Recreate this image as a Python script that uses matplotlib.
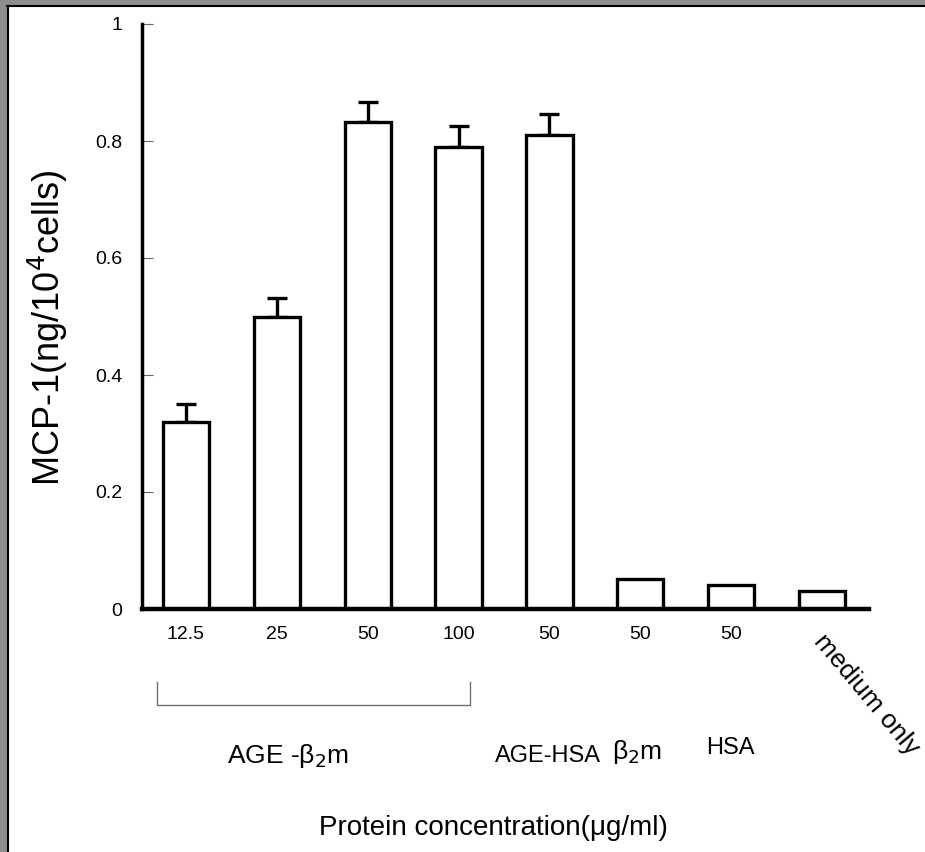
import matplotlib.pyplot as plt
import matplotlib.patches as mpatches
from matplotlib.lines import Line2D
import numpy as np

plt.rcParams['font.family'] = ['Liberation Sans', 'DejaVu Sans']

# MCP-1 secretion per condition
dose_labels = ["12.5", "25", "50", "100", "50", "50", "50", ""]
mcp1 = [0.32, 0.50, 0.832, 0.79, 0.81, 0.051, 0.041, 0.031]
sem = [0.03, 0.032, 0.035, 0.036, 0.036, 0, 0, 0]
groups = ["AGE -β$_2$m", "AGE-HSA", "β$_2$m", "HSA"]

x = np.arange(len(mcp1))

fig = plt.figure(figsize=(9.25, 8.52), dpi=100)
ax = fig.add_axes([142 / 925, (852 - 609) / 852, (869 - 142) / 925, 585 / 852])

ax.bar(x, mcp1, width=0.51, color="white", edgecolor="black", linewidth=2.4, zorder=2)
has_err = np.array(sem) > 0
ax.errorbar(x[has_err], np.array(mcp1)[has_err],
            yerr=[np.zeros(has_err.sum()), np.array(sem)[has_err]],
            fmt="none", ecolor="black", elinewidth=2.4, capsize=7, capthick=2.4, zorder=1)

ax.set_xlim(-0.484, 7.517)
ax.set_ylim(0, 1)
ax.set_yticks([0, 0.2, 0.4, 0.6, 0.8, 1])
ax.set_yticklabels(["0", "0.2", "0.4", "0.6", "0.8", "1"], fontsize=14)
ax.tick_params(axis="y", direction="in", length=8, width=0.8, color="0.4", pad=14)
ax.set_xticks(x)
ax.set_xticklabels(dose_labels, fontsize=14)
ax.tick_params(axis="x", length=0, pad=12)
for s in ["top", "right"]:
    ax.spines[s].set_visible(False)
ax.spines["left"].set_linewidth(2.5)
ax.spines["bottom"].set_linewidth(3.2)

ax.set_ylabel("MCP-1(ng/10$^4$cells)", fontsize=26)
ax.yaxis.set_label_coords(-72 / 727, (609 - 328) / 585)

# rotated label for the control bar
ax.text(x[7] + 0.06, -0.035, "medium only", rotation=-50, fontsize=19,
        ha="left", va="top", rotation_mode="anchor")

# bracket under the AGE-β2m doses
fig.add_artist(Line2D([157 / 925, 157 / 925, 470 / 925, 470 / 925],
                      [1 - 682 / 852, 1 - 705 / 852, 1 - 705 / 852, 1 - 682 / 852],
                      color="0.45", linewidth=1))

fig.text(288 / 925, 1 - 756 / 852, groups[0], fontsize=19, ha="center", va="center")
fig.text(548 / 925, 1 - 756 / 852, groups[1], fontsize=17, ha="center", va="center")
fig.text(637 / 925, 1 - 752 / 852, groups[2], fontsize=19, ha="center", va="center")
fig.text(730 / 925, 1 - 748 / 852, groups[3], fontsize=17, ha="center", va="center")

fig.text(493 / 925, 1 - 828 / 852, "Protein concentration(μg/ml)", fontsize=20,
         ha="center", va="center")

# grey frame along the top and left edges
fig.add_artist(mpatches.Rectangle((0, 1 - 5 / 852), 1, 5 / 852, color="#8e8e8e"))
fig.add_artist(mpatches.Rectangle((0, 0), 7 / 925, 1, color="#8e8e8e"))
fig.add_artist(Line2D([7 / 925, 1], [1 - 6 / 852, 1 - 6 / 852], color="black", linewidth=1.5))
fig.add_artist(Line2D([7.5 / 925, 7.5 / 925], [0, 1 - 6 / 852], color="black", linewidth=1.5))

fig.savefig("out.png", dpi=100)
